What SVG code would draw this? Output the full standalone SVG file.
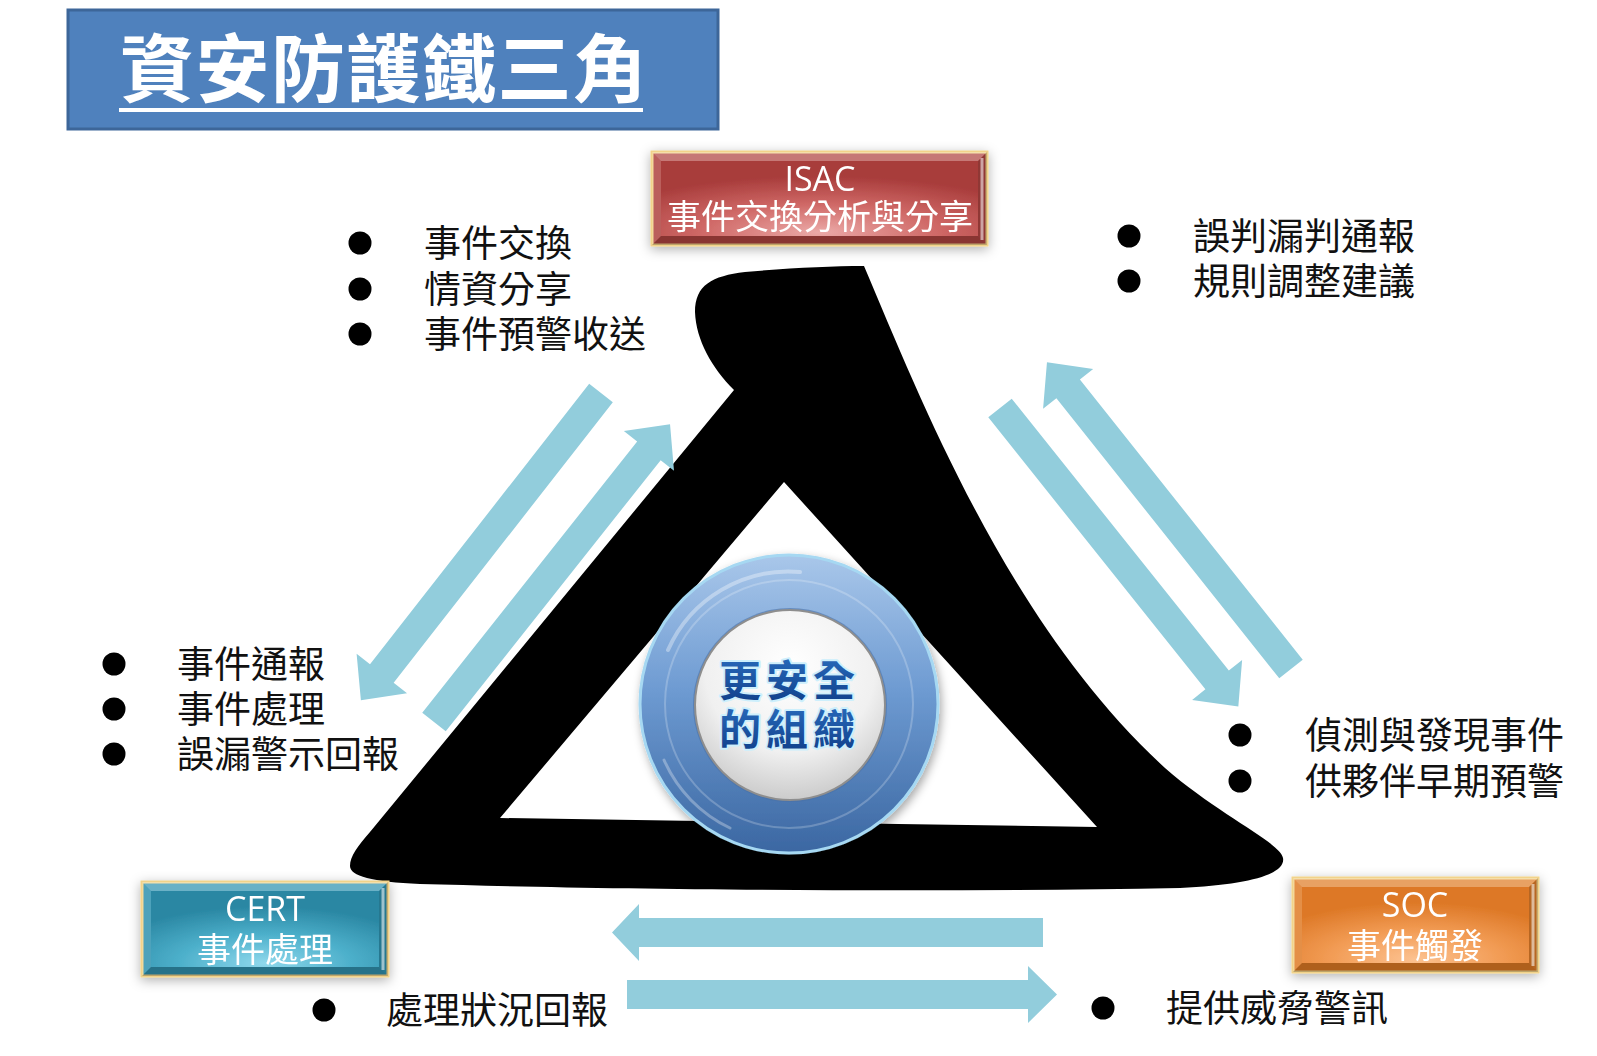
<svg xmlns="http://www.w3.org/2000/svg" width="1597" height="1056" viewBox="0 0 1597 1056">
<defs>
<style>
.cjk{font-family:'Noto Sans CJK TC','Noto Sans CJK SC',sans-serif;}
.bl{font-size:37px;fill:#111;}
.dot{fill:#000;}
.arr{fill:#92CDDC;}
.bx{font-family:'Open Sans','Noto Sans CJK TC',sans-serif;font-size:34px;fill:#fff;text-anchor:middle;}
.bevT{fill:#fff;fill-opacity:0.28;}
.bevL{fill:#fff;fill-opacity:0.14;}
.bevR{fill:#000;fill-opacity:0.18;}
.bevB{fill:#000;fill-opacity:0.22;}
.hl{stroke:#fff;stroke-opacity:0.55;stroke-width:3;fill:none;}
.ctr{font-family:'Noto Sans CJK TC','Noto Sans CJK SC',sans-serif;font-size:42px;font-weight:bold;letter-spacing:5px;fill:url(#txtG);stroke:#CDEFFC;stroke-width:4;paint-order:stroke;stroke-linejoin:round;}
</style>
<filter id="sh" x="-20%" y="-30%" width="140%" height="160%">
<feDropShadow dx="0" dy="3" stdDeviation="6" flood-color="#000" flood-opacity="0.3"/>
</filter>
<filter id="csh" x="-20%" y="-20%" width="140%" height="140%">
<feDropShadow dx="2" dy="4" stdDeviation="5" flood-color="#000" flood-opacity="0.35"/>
</filter>
<radialGradient id="redF" cx="50%" cy="95%" r="75%">
<stop offset="0" stop-color="#EBA9A7"/><stop offset="0.5" stop-color="#CF6866"/><stop offset="1" stop-color="#A83C3B"/>
</radialGradient>
<radialGradient id="tealF" cx="50%" cy="95%" r="75%">
<stop offset="0" stop-color="#8FD8EC"/><stop offset="0.5" stop-color="#4DB0CB"/><stop offset="1" stop-color="#2A87A3"/>
</radialGradient>
<radialGradient id="orgF" cx="50%" cy="95%" r="75%">
<stop offset="0" stop-color="#FCC291"/><stop offset="0.5" stop-color="#F29C55"/><stop offset="1" stop-color="#DD7826"/>
</radialGradient>
<linearGradient id="ringG" x1="0" y1="0" x2="0" y2="1">
<stop offset="0" stop-color="#A9C7EA"/><stop offset="0.45" stop-color="#6E9BD2"/><stop offset="1" stop-color="#3B67A2"/>
</linearGradient>
<radialGradient id="discG" cx="50%" cy="30%" r="75%">
<stop offset="0" stop-color="#FFFFFF"/><stop offset="0.6" stop-color="#F0F0F0"/><stop offset="1" stop-color="#C4C4C4"/>
</radialGradient>
<linearGradient id="txtG" x1="0" y1="0" x2="0" y2="1">
<stop offset="0" stop-color="#2C72C4"/><stop offset="1" stop-color="#0E3C86"/>
</linearGradient>
</defs>

<rect width="1597" height="1056" fill="#fff"/>

<g id="title">
<rect x="68" y="10" width="650" height="119" fill="#4F81BD" stroke="#3D6699" stroke-width="3"/>
<text x="120" y="96" class="cjk" font-size="74" font-weight="bold" fill="#fff" letter-spacing="1.5">資安防護鐵三角</text>
<line x1="119" y1="110" x2="643" y2="110" stroke="#fff" stroke-width="4"/>
</g>

<g id="triangle">
<path fill="#000" fill-rule="evenodd" d="M864,266 C925,410 1010,625 1165,768 C1220,816 1280,842 1283,858 C1286,874 1250,885 1180,888 C900,893 600,889 420,884 C372,882 350,876 350,866 C350,856 358,846 370,832 L734,390 C712,368 696,340 695,312 C695,285 712,276 745,272 C790,268 830,266 864,266 Z M784,482 L1097,827 L500,818 Z"/>
</g>

<g id="connectors">
<polygon class="arr" points="0,-15 356,-15 356,-32 390,0 356,32 356,15 0,15" transform="translate(601,393) rotate(128)"/>
<polygon class="arr" points="0,-15 346,-15 346,-32 380,0 346,32 346,15 0,15" transform="translate(434,722) rotate(-51.6)"/>
<polygon class="arr" points="0,-15 358,-15 358,-32 392,0 358,32 358,15 0,15" transform="translate(1291,669) rotate(-128.5)"/>
<polygon class="arr" points="0,-15 348,-15 348,-32 382,0 348,32 348,15 0,15" transform="translate(1000,408) rotate(51.4)"/>
<polygon class="arr" points="1043,918 639,918 639,904 612,932.5 639,961 639,947 1043,947"/>
<polygon class="arr" points="627,980 1028,980 1028,966 1057,994.5 1028,1023 1028,1009 627,1009"/>
</g>

<g id="center">
<circle cx="789" cy="704" r="149" fill="url(#ringG)" stroke="#A6D8F2" stroke-width="3" filter="url(#csh)"/>
<circle cx="789" cy="704" r="124" fill="none" stroke="#fff" stroke-opacity="0.22" stroke-width="2"/>
<path d="M668,650 A132,132 0 0 1 800,572" fill="none" stroke="#fff" stroke-opacity="0.35" stroke-width="4" stroke-linecap="round"/>
<path d="M664,760 A136,136 0 0 0 730,828" fill="none" stroke="#fff" stroke-opacity="0.3" stroke-width="3" stroke-linecap="round"/>
<circle cx="790" cy="705" r="97" fill="#4A72A8" opacity="0.6"/>
<circle cx="790" cy="705" r="95" fill="url(#discG)" stroke="#8E8E8E" stroke-width="2"/>
<text x="719" y="696" class="ctr">更安全</text>
<text x="719" y="745" class="ctr">的組織</text>
</g>

<g id="isac" filter="url(#sh)">
<rect x="652" y="152" width="335" height="93" fill="#B04442" stroke="#F2D38A" stroke-width="3"/>
<rect x="661" y="161" width="317" height="75" fill="url(#redF)"/>
<polygon class="bevT" points="652,152 987,152 978,161 661,161"/>
<polygon class="bevL" points="652,152 661,161 661,236 652,245"/>
<polygon class="bevR" points="987,152 987,245 978,236 978,161"/>
<polygon class="bevB" points="652,245 661,236 978,236 987,245"/>
<line class="hl" x1="982" y1="158" x2="982" y2="240"/>
<text class="bx" x="820" y="191">ISAC</text>
<text class="bx" x="820" y="229">事件交換分析與分享</text>
</g>

<g id="cert" filter="url(#sh)">
<rect x="142" y="882" width="246" height="94" fill="#3193B0" stroke="#F2D38A" stroke-width="3"/>
<rect x="151" y="891" width="228" height="76" fill="url(#tealF)"/>
<polygon class="bevT" points="142,882 388,882 379,891 151,891"/>
<polygon class="bevL" points="142,882 151,891 151,967 142,976"/>
<polygon class="bevR" points="388,882 388,976 379,967 379,891"/>
<polygon class="bevB" points="142,976 151,967 379,967 388,976"/>
<line class="hl" x1="383" y1="888" x2="383" y2="970"/>
<text class="bx" x="265" y="921">CERT</text>
<text class="bx" x="265" y="962">事件處理</text>
</g>

<g id="soc" filter="url(#sh)">
<rect x="1293" y="878" width="245" height="94" fill="#E07D28" stroke="#F2D38A" stroke-width="3"/>
<rect x="1302" y="887" width="227" height="76" fill="url(#orgF)"/>
<polygon class="bevT" points="1293,878 1538,878 1529,887 1302,887"/>
<polygon class="bevL" points="1293,878 1302,887 1302,963 1293,972"/>
<polygon class="bevR" points="1538,878 1538,972 1529,963 1529,887"/>
<polygon class="bevB" points="1293,972 1302,963 1529,963 1538,972"/>
<line class="hl" x1="1533" y1="884" x2="1533" y2="966"/>
<text class="bx" x="1415" y="917">SOC</text>
<text class="bx" x="1415" y="958">事件觸發</text>
</g>

<g id="isac-notes" class="cjk bl">
<circle class="dot" cx="360" cy="243" r="11.5"/>
<circle class="dot" cx="360" cy="289" r="11.5"/>
<circle class="dot" cx="360" cy="334" r="11.5"/>
<text x="424" y="257">事件交換</text>
<text x="424" y="303">情資分享</text>
<text x="424" y="348">事件預警收送</text>
</g>

<g id="soc-isac-notes" class="cjk bl">
<circle class="dot" cx="1129" cy="236" r="11.5"/>
<circle class="dot" cx="1129" cy="281" r="11.5"/>
<text x="1193" y="250">誤判漏判通報</text>
<text x="1193" y="295">規則調整建議</text>
</g>

<g id="cert-notes" class="cjk bl">
<circle class="dot" cx="114" cy="664" r="11.5"/>
<circle class="dot" cx="114" cy="709" r="11.5"/>
<circle class="dot" cx="114" cy="754" r="11.5"/>
<text x="177" y="678">事件通報</text>
<text x="177" y="723">事件處理</text>
<text x="177" y="768">誤漏警示回報</text>
</g>

<g id="soc-notes" class="cjk bl">
<circle class="dot" cx="1240" cy="735" r="11.5"/>
<circle class="dot" cx="1240" cy="781" r="11.5"/>
<text x="1305" y="749">偵測與發現事件</text>
<text x="1305" y="795">供夥伴早期預警</text>
</g>

<g id="bottom-notes" class="cjk bl">
<circle class="dot" cx="324" cy="1010" r="11.5"/>
<text x="386" y="1024">處理狀況回報</text>
<circle class="dot" cx="1103" cy="1008" r="11.5"/>
<text x="1166" y="1022">提供威脅警訊</text>
</g>
</svg>
